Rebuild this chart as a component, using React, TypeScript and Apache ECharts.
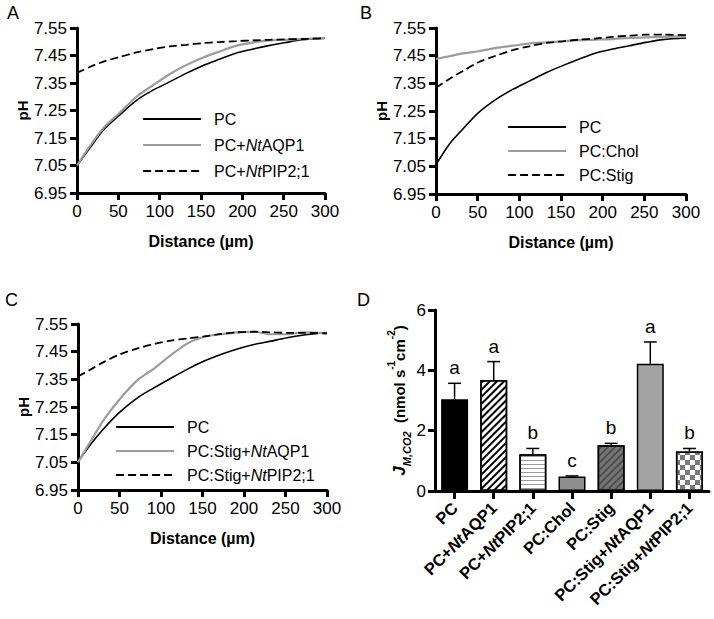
import React, { useEffect, useRef } from 'react';
import * as echarts from 'echarts';

const FONT = '"Liberation Sans", Arial, Helvetica, sans-serif';

// ---- Data ----
const distance = [0, 16, 32, 51, 72, 92, 112, 132, 152, 172, 192, 212, 232, 252, 272, 300];
const pHTicks = [6.95, 7.05, 7.15, 7.25, 7.35, 7.45, 7.55];

// Panel A
const aPC = [7.05, 7.115, 7.179, 7.232, 7.287, 7.324, 7.354, 7.385, 7.413, 7.436, 7.458, 7.473, 7.486, 7.497, 7.507, 7.513];
const aAQP1 = [7.05, 7.122, 7.186, 7.24, 7.3, 7.342, 7.382, 7.415, 7.442, 7.464, 7.485, 7.497, 7.505, 7.507, 7.51, 7.513];
const aPIP = [7.387, 7.409, 7.428, 7.444, 7.461, 7.473, 7.483, 7.489, 7.495, 7.499, 7.502, 7.505, 7.507, 7.509, 7.51, 7.513];

// Panel B
const bPC = [7.056, 7.13, 7.184, 7.244, 7.292, 7.328, 7.358, 7.388, 7.414, 7.438, 7.46, 7.474, 7.486, 7.498, 7.508, 7.514];
const bChol = [7.438, 7.448, 7.458, 7.466, 7.478, 7.486, 7.494, 7.498, 7.502, 7.506, 7.508, 7.51, 7.514, 7.516, 7.518, 7.52];
const bStig = [7.334, 7.366, 7.394, 7.426, 7.45, 7.47, 7.484, 7.496, 7.502, 7.508, 7.512, 7.518, 7.522, 7.526, 7.526, 7.524];

// Panel C
const cPC = [7.052, 7.118, 7.175, 7.233, 7.284, 7.32, 7.354, 7.387, 7.416, 7.44, 7.46, 7.476, 7.488, 7.5, 7.51, 7.519];
const cStigAQP1 = [7.05, 7.13, 7.208, 7.281, 7.348, 7.39, 7.438, 7.48, 7.504, 7.513, 7.52, 7.522, 7.513, 7.513, 7.52, 7.516];
const cStigPIP = [7.36, 7.387, 7.414, 7.441, 7.462, 7.478, 7.49, 7.498, 7.505, 7.514, 7.52, 7.522, 7.52, 7.518, 7.518, 7.516];

// Panel D
const categories = ['PC', 'PC+NtAQP1', 'PC+NtPIP2;1', 'PC:Chol', 'PC:Stig', 'PC:Stig+NtAQP1', 'PC:Stig+NtPIP2;1'];
const fluxMean = [3.04, 3.68, 1.22, 0.48, 1.52, 4.22, 1.31];
const fluxErr = [0.53, 0.61, 0.19, 0.02, 0.06, 0.72, 0.1];
const sigLetters = ['a', 'a', 'b', 'c', 'b', 'a', 'b'];

// ---- Styles ----
const BLACK = { color: '#000', width: 1.6, type: 'solid' };
const GRAY = { color: '#9c9c9c', width: 2.2, type: 'solid' };
const DASH = { color: '#000', width: 1.8, type: [8, 4] };

const barStyles = [
  { color: '#000' },
  { color: '#fff', decal: { symbol: 'rect', color: '#000', dashArrayX: [1, 0], dashArrayY: [1.5, 2.5], rotation: -Math.PI / 4 } },
  { color: '#fff', decal: { symbol: 'rect', color: '#9a9a9a', dashArrayX: [1, 0], dashArrayY: [1, 3], rotation: 0 } },
  { color: '#8e8e8e' },
  { color: '#767676', decal: { symbol: 'rect', color: '#4e4e4e', dashArrayX: [1, 0], dashArrayY: [1.5, 2.5], rotation: -Math.PI / 4 } },
  { color: '#a3a3a3' },
  { color: '#fff', decal: { symbol: 'rect', color: '#7a7a7a', dashArrayX: [[5, 5], [0, 5, 5, 0]], dashArrayY: [5, 0] } },
];

const italicNt = (s: string) => s.replace('Nt', '{i|Nt}');

function lineX(g: number) {
  return {
    type: 'value', gridIndex: g, min: 0, max: 300, interval: 50,
    axisLine: { show: true, lineStyle: { color: '#000', width: 3 } },
    axisTick: { show: true, length: 7, lineStyle: { color: '#000', width: 3 } },
    axisLabel: { fontSize: 17, color: '#000', fontFamily: FONT, margin: 10 },
    splitLine: { show: false },
    name: 'Distance (µm)', nameLocation: 'middle', nameGap: 40,
    nameTextStyle: { fontSize: 16, fontWeight: 'bold', color: '#000', fontFamily: FONT },
  };
}
function lineY(g: number) {
  return {
    type: 'value', gridIndex: g, min: 6.95, max: 7.55,
    axisLine: { show: true, lineStyle: { color: '#000', width: 3 } },
    axisTick: { show: true, length: 7, lineStyle: { color: '#000', width: 3 }, customValues: pHTicks },
    axisLabel: { fontSize: 17, color: '#000', fontFamily: FONT, margin: 10, customValues: pHTicks, formatter: (v: number) => v.toFixed(2) },
    splitLine: { show: false },
    name: 'pH', nameLocation: 'middle', nameRotate: 90, nameGap: 47,
    nameTextStyle: { fontSize: 15, fontWeight: 'bold', color: '#000', fontFamily: FONT },
  };
}
function lineSeries(name: string, vals: number[], g: number, style: any) {
  return {
    type: 'line', name, xAxisIndex: g, yAxisIndex: g,
    data: distance.map((d, i) => [d, vals[i]]),
    symbol: 'none', smooth: 0.3, color: style.color,
    lineStyle: style, silent: true, emphasis: { disabled: true },
  };
}
function legend(left: number, top: number, gap: number, names: string[]) {
  return {
    orient: 'vertical', left, top, itemWidth: 58, itemHeight: 14, itemGap: gap,
    data: names, selectedMode: false, padding: 0,
    lineStyle: { width: 2.2 },
    itemStyle: { color: 'transparent', borderColor: 'transparent', borderWidth: 0, opacity: 0 },
    formatter: italicNt,
    textStyle: {
      fontSize: 16, color: '#000', fontFamily: FONT, lineHeight: 14, padding: [0, 0, 0, 8],
      rich: { i: { fontSize: 16, fontStyle: 'italic', color: '#000', fontFamily: FONT, lineHeight: 14 } },
    },
  };
}

const option: any = {
  animation: false,
  backgroundColor: '#fff',
  textStyle: { fontFamily: FONT },
  grid: [
    { left: 77, right: 389, top: 28, bottom: 426 },
    { left: 436, right: 28, top: 28, bottom: 425 },
    { left: 78, right: 387, top: 324, bottom: 129 },
    { left: 435, right: 5, top: 310, bottom: 128 },
  ],
  xAxis: [
    lineX(0), lineX(1), lineX(2),
    {
      type: 'category', gridIndex: 3, data: categories,
      axisLine: { show: true, lineStyle: { color: '#000', width: 3 } },
      axisTick: { show: true, alignWithLabel: true, length: 8, lineStyle: { color: '#000', width: 3 } },
      axisLabel: {
        rotate: 45, margin: 14, fontSize: 16.5, fontWeight: 'bold', color: '#000', fontFamily: FONT,
        interval: 0, formatter: italicNt,
        rich: { i: { fontSize: 16.5, fontWeight: 'bold', fontStyle: 'italic', color: '#000', fontFamily: FONT } },
      },
    },
  ],
  yAxis: [
    lineY(0), lineY(1), lineY(2),
    {
      type: 'value', gridIndex: 3, min: 0, max: 6, interval: 2,
      axisLine: { show: true, lineStyle: { color: '#000', width: 3 } },
      axisTick: { show: true, length: 7, lineStyle: { color: '#000', width: 3 } },
      axisLabel: { fontSize: 17, color: '#000', fontFamily: FONT, margin: 9 },
      splitLine: { show: false },
      name: '{j|J}{sub|M,CO2}{t|  (nmol s}{sup|-1}{t|cm}{sup|-2}{t|)}',
      nameLocation: 'middle', nameRotate: 90, nameGap: 22,
      nameTextStyle: {
        color: '#000', fontFamily: FONT,
        rich: {
          j: { fontSize: 17, fontWeight: 'bold', fontStyle: 'italic', lineHeight: 26, color: '#000', fontFamily: FONT },
          t: { fontSize: 15, fontWeight: 'bold', lineHeight: 26, color: '#000', fontFamily: FONT },
          sub: { fontSize: 11, fontWeight: 'bold', fontStyle: 'italic', lineHeight: 11, verticalAlign: 'bottom', color: '#000', fontFamily: FONT },
          sup: { fontSize: 10, fontWeight: 'bold', lineHeight: 11, verticalAlign: 'top', color: '#000', fontFamily: FONT },
        },
      },
    },
  ],
  legend: [
    legend(142, 111, 10, ['PC', 'PC+NtAQP1', 'PC+NtPIP2;1']),
    legend(507, 119, 8, ['PC', 'PC:Chol', 'PC:Stig']),
    legend(115, 419, 8, ['PC', 'PC:Stig+NtAQP1', 'PC:Stig+NtPIP2;1']),
  ],
  graphic: [
    { type: 'text', x: 7, y: 4, style: { text: 'A', fontSize: 18, fill: '#000', fontFamily: FONT } },
    { type: 'text', x: 360, y: 4, style: { text: 'B', fontSize: 18, fill: '#000', fontFamily: FONT } },
    { type: 'text', x: 5, y: 291, style: { text: 'C', fontSize: 18, fill: '#000', fontFamily: FONT } },
    { type: 'text', x: 357, y: 291, style: { text: 'D', fontSize: 18, fill: '#000', fontFamily: FONT } },
  ],
  series: [
    lineSeries('PC', aPC, 0, BLACK),
    lineSeries('PC+NtAQP1', aAQP1, 0, GRAY),
    lineSeries('PC+NtPIP2;1', aPIP, 0, DASH),
    lineSeries('PC', bPC, 1, BLACK),
    lineSeries('PC:Chol', bChol, 1, GRAY),
    lineSeries('PC:Stig', bStig, 1, DASH),
    lineSeries('PC', cPC, 2, BLACK),
    lineSeries('PC:Stig+NtAQP1', cStigAQP1, 2, GRAY),
    lineSeries('PC:Stig+NtPIP2;1', cStigPIP, 2, DASH),
    {
      type: 'bar', xAxisIndex: 3, yAxisIndex: 3, barWidth: 27, silent: true,
      data: fluxMean.map((v, i) => ({
        value: v,
        itemStyle: { borderColor: '#000', borderWidth: 1.5, ...barStyles[i] },
      })),
    },
    {
      type: 'custom', xAxisIndex: 3, yAxisIndex: 3, silent: true, z: 5,
      encode: { x: 0, y: [1, 2] },
      data: fluxMean.map((m, i) => [i, m, m + fluxErr[i]]),
      renderItem: (params: any, api: any) => {
        const i = api.value(0);
        const p0 = api.coord([i, api.value(1)]);
        const p1 = api.coord([i, api.value(2)]);
        const half = 6.5;
        return {
          type: 'group',
          children: [
            { type: 'line', shape: { x1: p0[0], y1: p0[1], x2: p1[0], y2: p1[1] }, style: { stroke: '#000', lineWidth: 1.5 } },
            { type: 'line', shape: { x1: p1[0] - half, y1: p1[1], x2: p1[0] + half, y2: p1[1] }, style: { stroke: '#000', lineWidth: 1.5 } },
            {
              type: 'text', x: p1[0], y: p1[1] - 6,
              style: {
                text: sigLetters[params.dataIndex], fill: '#000', fontSize: 19, fontFamily: FONT,
                align: 'center', verticalAlign: 'bottom', textAlign: 'center', textVerticalAlign: 'bottom',
              },
            },
          ],
        };
      },
    },
  ],
};

export default function App() {
  const ref = useRef<HTMLDivElement>(null);
  useEffect(() => {
    document.body.style.margin = '0';
    const chart = echarts.init(ref.current!, null, { renderer: 'svg' });
    chart.setOption(option);
    return () => chart.dispose();
  }, []);
  return <div ref={ref} style={{ width: 714, height: 619 }} />;
}
